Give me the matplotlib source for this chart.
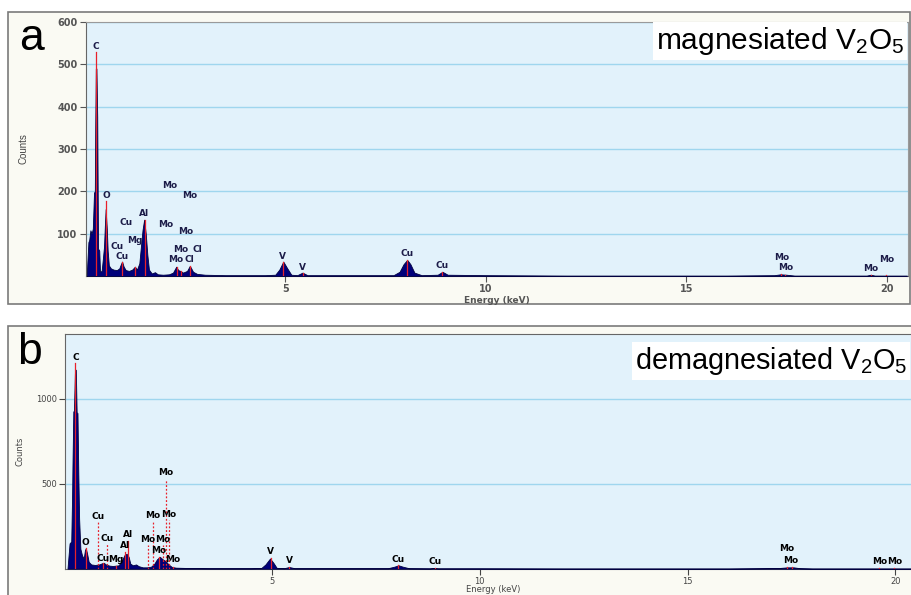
import matplotlib
matplotlib.use("Agg")
import matplotlib.pyplot as plt
from matplotlib.patches import Rectangle

plt.rcParams['mathtext.fontset'] = 'custom'
plt.rcParams['mathtext.rm'] = 'Liberation Sans'
plt.rcParams['mathtext.it'] = 'Liberation Sans'

# --- spectrum a: magnesiated V2O5 (energy keV, counts) ---
a_energy = [0.05, 0.06, 0.09, 0.11, 0.14, 0.17, 0.20, 0.23, 0.25, 0.26, 0.275, 0.29, 0.31, 0.33,
            0.36, 0.38, 0.42, 0.45, 0.48, 0.50, 0.52, 0.55, 0.57, 0.60, 0.65, 0.72, 0.80, 0.86,
            0.90, 0.93, 0.97, 1.02, 1.10, 1.18, 1.25, 1.30, 1.36, 1.41, 1.44, 1.48, 1.52, 1.56,
            1.60, 1.67, 1.75, 1.82, 1.95, 2.10, 2.20, 2.28, 2.33, 2.38, 2.45, 2.55, 2.62, 2.70,
            2.80, 3.0, 3.5, 4.0, 4.5, 4.75, 4.85, 4.95, 5.05, 5.15, 5.30, 5.43, 5.55, 6.0, 7.0,
            7.7, 7.85, 7.95, 8.04, 8.12, 8.22, 8.40, 8.80, 8.92, 9.05, 10.0, 12.0, 14.0, 16.0,
            17.2, 17.35, 17.5, 17.7, 19.5, 19.6, 19.7, 20.5]
a_counts = [0, 25, 80, 85, 108, 100, 112, 197, 200, 346, 490, 490, 376, 65,
            60, 10, 12, 40, 70, 118, 158, 110, 60, 25, 18, 15, 14, 18,
            28, 34, 22, 14, 12, 15, 22, 15, 30, 80, 109, 133, 100, 50,
            15, 6, 9, 4, 3, 4, 8, 22, 14, 12, 8, 12, 24, 10,
            5, 3, 2, 2, 2, 3, 15, 34, 18, 3, 2, 8, 2, 2, 2,
            2, 10, 28, 38, 28, 8, 2, 3, 10, 3, 2, 1, 1, 1,
            2, 4, 3, 1, 1, 3, 1, 1]

# peak marker lines (energy, top count)
a_lines = [(0.28, 528), (0.53, 176), (0.93, 34), (1.25, 22), (1.49, 133), (2.29, 22),
           (2.40, 12), (2.62, 24), (4.95, 34), (5.43, 8), (8.04, 38), (8.92, 10),
           (17.37, 4), (17.47, 3), (19.6, 3), (19.99, 2)]

a_labels = [("C", 0.28, 541), ("O", 0.53, 190), ("Cu", 1.03, 126), ("Cu", 0.80, 69),
            ("Cu", 0.93, 47), ("Mg", 1.25, 83), ("Al", 1.48, 147), ("Mo", 2.12, 213),
            ("Mo", 2.62, 190), ("Mo", 2.02, 121), ("Mo", 2.52, 104), ("Mo", 2.40, 62),
            ("Cl", 2.82, 62), ("Mo", 2.27, 38), ("Cl", 2.62, 40), ("V", 4.94, 47),
            ("V", 5.44, 19), ("Cu", 8.04, 52), ("Cu", 8.91, 24), ("Mo", 17.37, 43),
            ("Mo", 17.47, 21), ("Mo", 19.61, 17), ("Mo", 19.99, 38)]

# --- spectrum b: demagnesiated V2O5 ---
b_energy = [0.09, 0.11, 0.14, 0.18, 0.20, 0.21, 0.23, 0.245, 0.27, 0.29, 0.31, 0.33, 0.35,
            0.37, 0.40, 0.44, 0.48, 0.51, 0.53, 0.56, 0.60, 0.66, 0.75, 0.85, 0.92, 0.96,
            1.02, 1.10, 1.18, 1.25, 1.32, 1.40, 1.46, 1.51, 1.56, 1.60, 1.66, 1.74, 1.80,
            1.90, 2.0, 2.10, 2.18, 2.24, 2.31, 2.38, 2.45, 2.52, 2.60, 2.70, 3.0, 3.5, 4.0,
            4.5, 4.75, 4.85, 4.96, 5.04, 5.12, 5.3, 5.42, 5.55, 6.0, 7.8, 7.95, 8.05, 8.15,
            8.3, 8.8, 8.9, 9.0, 10.0, 12.0, 14.0, 16.0, 17.2, 17.4, 17.55, 17.7, 18.0, 20.5]
b_counts = [0, 60, 149, 160, 420, 610, 924, 930, 1169, 1170, 920, 915, 560,
            292, 117, 78, 60, 110, 120, 90, 40, 25, 22, 25, 32, 35,
            24, 18, 16, 18, 20, 50, 80, 88, 70, 30, 20, 25, 15,
            8, 8, 12, 30, 55, 70, 55, 45, 25, 10, 6, 4, 3, 3,
            3, 4, 25, 60, 35, 5, 3, 10, 3, 3, 3, 12, 20, 12,
            3, 2, 4, 2, 2, 1, 1, 1, 4, 8, 8, 3, 1, 1]

b_dotted = [(0.815, 276), (1.03, 145), (2.02, 139), (2.14, 276), (2.46, 526),
            (2.53, 286), (2.39, 139)]
b_lines = [(0.28, 1209), (0.53, 120), (0.94, 35), (1.26, 15), (1.48, 100), (1.55, 165),
           (2.29, 70), (2.63, 10), (4.98, 60), (5.42, 10), (8.04, 20), (8.93, 5),
           (17.4, 8), (17.5, 8), (19.6, 3), (19.97, 3)]

b_labels = [("C", 0.29, 1241), ("O", 0.53, 155), ("Cu", 0.815, 306), ("Cu", 1.03, 179),
            ("Cu", 0.94, 61), ("Mg", 1.26, 55), ("Al", 1.55, 202), ("Al", 1.48, 135),
            ("Mo", 2.46, 567), ("Mo", 2.14, 310), ("Mo", 2.53, 316), ("Mo", 2.02, 169),
            ("Mo", 2.39, 169), ("Mo", 2.29, 106), ("Mo", 2.63, 57), ("V", 4.98, 100),
            ("V", 5.42, 51), ("Cu", 8.04, 57), ("Cu", 8.93, 41), ("Mo", 17.39, 116),
            ("Mo", 17.48, 51), ("Mo", 19.61, 41), ("Mo", 19.97, 41)]

W, H = 912, 595
fig = plt.figure(figsize=(W / 100, H / 100), dpi=100)
fig.patch.set_facecolor('white')


def px_rect(x0, y0, x1, y1):
    return [x0 / W, 1 - y1 / H, (x1 - x0) / W, (y1 - y0) / H]


# outer frames
for x0, y0, x1, y1 in [(8, 12, 910, 304), (8, 326, 930, 620)]:
    r = px_rect(x0, y0, x1, y1)
    fig.patches.append(Rectangle((r[0], r[1]), r[2], r[3], transform=fig.transFigure,
                                 facecolor='#fafaf3', edgecolor='#7a7a7a', lw=1.2, zorder=-5))

navy = '#00007a'
red = '#e8202a'
bg = '#e2f2fb'
grid = '#9fd6ee'

# ---------- panel a ----------
ax = fig.add_axes(px_rect(86, 22, 908, 276))
ax.set_facecolor(bg)
ax.fill_between(a_energy, a_counts, 0, color=navy, lw=0.6, edgecolor='#000040', zorder=3)
for e, top in a_lines:
    ax.plot([e, e], [0, top], color=red, lw=0.9, zorder=4)
for t, e, c in a_labels:
    ax.text(e, c, t, ha='center', va='center', fontsize=6.5, fontweight='bold',
            color='#1c1c48', zorder=5)
ax.set_xlim(0.03, 20.53)
ax.set_ylim(0, 600)
ax.set_yticks([100, 200, 300, 400, 500, 600])
ax.set_xticks([5, 10, 15, 20])
ax.yaxis.grid(True, color=grid, lw=1.0)
ax.set_axisbelow(True)
ax.tick_params(axis='both', labelsize=7, colors='#555555', length=4, width=0.8, pad=2)
for lab in ax.get_xticklabels() + ax.get_yticklabels():
    lab.set_fontweight('bold')
for s in ax.spines.values():
    s.set_color('#666666')
ax.spines['top'].set_color('#9a9a9a')
ax.spines['right'].set_color('#9a9a9a')
ax.set_xlabel("Energy (keV)", fontsize=6.5, fontweight='bold', color='#555555', labelpad=1)
ax.set_ylabel("Counts", fontsize=7, color='#444444', family='Liberation Sans')
ax.yaxis.set_label_coords(-0.07, 0.5)
ax.text(0.9955, 0.925, r"magnesiated V$_2$O$_5$", transform=ax.transAxes, ha='right',
        va='center', fontsize=21.5, family='Liberation Sans', color='black', zorder=6,
        bbox=dict(facecolor='white', edgecolor='none', pad=2))
fig.text(32 / W, 1 - 38 / H, "a", fontsize=32, family='Liberation Sans', ha='center',
         va='center')

# ---------- panel b ----------
bx = fig.add_axes(px_rect(65, 334, 925, 568.7))
bx.set_facecolor(bg)
bx.fill_between(b_energy, b_counts, 0, color=navy, lw=0.6, edgecolor='#000040', zorder=3)
for e, top in b_dotted:
    bx.plot([e, e], [0, top], color=red, lw=0.9, ls=(0, (1.5, 1.5)), zorder=4)
for e, top in b_lines:
    bx.plot([e, e], [0, top], color=red, lw=0.9, zorder=4)
for t, e, c in b_labels:
    bx.text(e, c, t, ha='center', va='center', fontsize=6.5, fontweight='bold',
            color='black', zorder=5)
bx.set_xlim(0.03, 20.71)
bx.set_ylim(0, 1380)
bx.set_yticks([500, 1000])
bx.set_xticks([5, 10, 15, 20])
bx.yaxis.grid(True, color=grid, lw=1.0)
bx.set_axisbelow(True)
bx.tick_params(axis='both', labelsize=6, colors='#444444', length=4, width=0.8, pad=2)
for s in bx.spines.values():
    s.set_color('#666666')
bx.set_xlabel("Energy (keV)", fontsize=6, color='#444444', labelpad=3)
bx.xaxis.set_label_coords((493 - 65) / 860, -0.07)
bx.set_ylabel("Counts", fontsize=6, color='#444444')
bx.yaxis.set_label_coords(-0.047, 0.5)
bx.text(570 / 860, 0.885, r"demagnesiated V$_2$O$_5$", transform=bx.transAxes, ha='left',
        va='center', fontsize=20.8, family='Liberation Sans', color='black', zorder=6,
        bbox=dict(facecolor='white', edgecolor='none', pad=2))
fig.text(30 / W, 1 - 352 / H, "b", fontsize=32, family='Liberation Sans', ha='center',
         va='center')

fig.savefig("out.png", dpi=100)
